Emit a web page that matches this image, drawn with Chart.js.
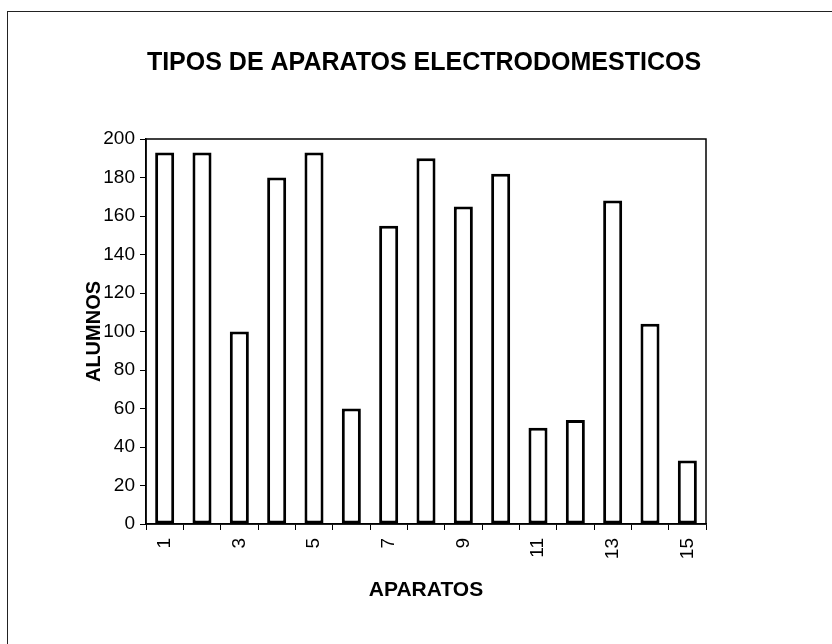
<!DOCTYPE html>
<html lang="es">
  <head>
    <meta charset="UTF-8" />
    <title>Tipos de aparatos electrodomesticos</title>
    <script src="https://cdn.jsdelivr.net/npm/chart.js@4.4.0/dist/chart.umd.min.js"></script>
    <style>
      html, body { margin: 0; padding: 0; background: #fff; }
      .wrap { position: relative; width: 832px; height: 644px; overflow: hidden; }
      .frame { position: absolute; left: 7px; top: 11px; width: 840px; height: 640px; border: 1px solid #222; }
      canvas { position: absolute; left: 0; top: 0; }
    </style>
  </head>
  <body>
    <div class="wrap">
      <div class="frame"></div>
      <canvas id="chart" width="832" height="644"></canvas>
    </div>
    <script>
      const chartTitle = "TIPOS DE APARATOS ELECTRODOMESTICOS";
      const aparatos = ["1", "2", "3", "4", "5", "6", "7", "8", "9", "10", "11", "12", "13", "14", "15"];
      const alumnos = [193, 193, 100, 180, 193, 60, 155, 190, 165, 182, 50, 54, 168, 104, 33];
      const yTicks = [0, 20, 40, 60, 80, 100, 120, 140, 160, 180, 200];

      // caja del area de trazado + titulo centrado como en el original
      const plotBox = {
        id: "plotBox",
        afterDraw(chart) {
          const a = chart.chartArea;
          const c = chart.ctx;
          c.save();
          c.strokeStyle = "#000";
          c.lineWidth = 1.5;
          c.strokeRect(a.left, a.top, a.right - a.left, a.bottom - a.top);
          c.fillStyle = "#000";
          c.font = "bold 25px 'Liberation Sans', Arial, sans-serif";
          c.textAlign = "center";
          c.textBaseline = "middle";
          c.fillText(chartTitle, 424, 63);
          c.restore();
        },
      };

      const ctx = document.getElementById("chart").getContext("2d");
      new Chart(ctx, {
        type: "bar",
        data: {
          labels: aparatos,
          datasets: [
            {
              data: alumnos,
              backgroundColor: "#fff",
              borderColor: "#000",
              borderWidth: 3,
              borderSkipped: false,
              barPercentage: 0.51,
              categoryPercentage: 1,
            },
          ],
        },
        plugins: [plotBox],
        options: {
          responsive: false,
          animation: false,
          layout: { padding: { left: 70, right: 126, top: 139, bottom: 0 } },
          plugins: {
            legend: { display: false },
            tooltip: { enabled: false },
            title: { display: false },
          },
          scales: {
            x: {
              afterFit: function (axis) { axis.height = 120; },
              grid: { display: true, drawOnChartArea: false, color: "#000", tickLength: 6, offset: true },
              border: { color: "#000", width: 1.5 },
              ticks: {
                color: "#000",
                autoSkip: false,
                maxRotation: 90,
                minRotation: 90,
                padding: 8,
                font: { family: "Liberation Sans", size: 19 },
                callback: function (v, i) {
                  return i % 2 === 0 ? aparatos[i] : "";
                },
              },
              title: {
                display: true,
                text: "APARATOS",
                color: "#000",
                font: { family: "Liberation Sans", size: 21, weight: "bold" },
                padding: { top: 0, bottom: 41 },
              },
            },
            y: {
              min: 0,
              max: 200,
              afterFit: function (axis) { axis.width = 76; },
              afterBuildTicks: function (axis) {
                axis.ticks = yTicks.map(function (v) { return { value: v }; });
              },
              grid: { display: true, drawOnChartArea: false, color: "#000", tickLength: 6 },
              border: { color: "#000", width: 1.5 },
              ticks: {
                color: "#000",
                padding: 5,
                font: { family: "Liberation Sans", size: 19 },
              },
              title: {
                display: true,
                text: "ALUMNOS",
                color: "#000",
                font: { family: "Liberation Sans", size: 20, weight: "bold" },
                padding: { top: 12, bottom: 0 },
              },
            },
          },
        },
      });
    </script>
  </body>
</html>
